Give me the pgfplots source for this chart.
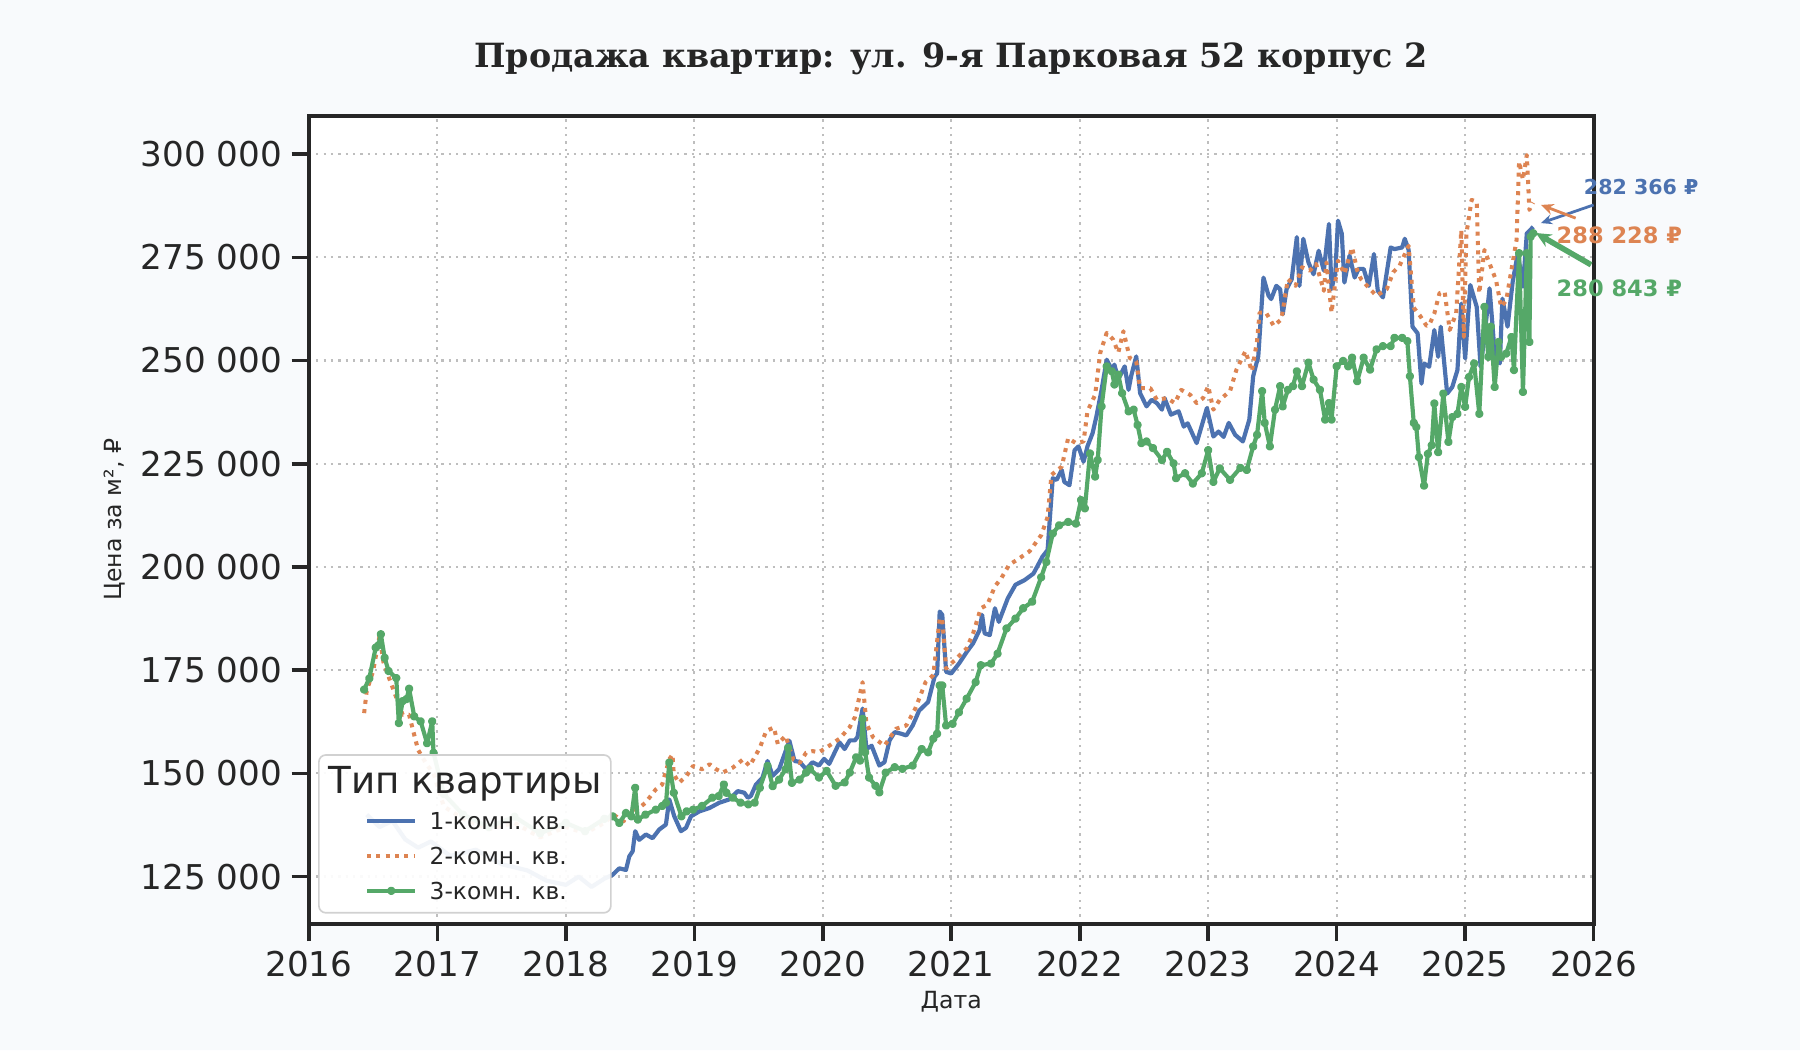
\documentclass[border=0pt]{standalone}
\usepackage{pgfplots}
\usepackage{pgfplotstable}
\pgfplotsset{compat=1.18}
\usetikzlibrary{arrows.meta}
\usepackage{fontspec}
\setmainfont{DejaVu Sans}
\newfontfamily\titlefont{DejaVu Serif}

\definecolor{c1}{HTML}{4C72B0}
\definecolor{c2}{HTML}{DD8452}
\definecolor{c3}{HTML}{55A868}
\definecolor{bg}{HTML}{F8FAFC}
\definecolor{ink}{HTML}{262626}
\definecolor{gridc}{HTML}{BEBEBE}

% 1-комн. кв.
\pgfplotstableread{
x y
2016.45 140000
2016.55 137000
2016.65 138500
2016.75 134000
2016.85 132000
2016.95 133500
2017.10 130000
2017.30 131500
2017.50 128000
2017.70 126500
2017.85 124000
2018.00 123000
2018.10 125000
2018.20 122500
2018.30 124500
2018.363 125400
2018.416 127000
2018.468 126600
2018.494 129900
2018.52 131100
2018.54 136000
2018.571 133900
2018.623 135200
2018.675 134300
2018.727 136400
2018.779 137600
2018.805 143700
2018.844 139600
2018.896 136000
2018.935 136800
2018.974 139600
2019.04 140800
2019.117 141600
2019.195 142900
2019.273 143700
2019.338 145700
2019.39 145300
2019.416 144100
2019.44 144500
2019.48 147300
2019.53 148900
2019.57 153000
2019.61 149400
2019.66 151000
2019.74 157900
2019.78 153000
2019.82 152800
2019.87 151000
2019.92 152700
2019.97 151900
2020.01 153500
2020.05 152300
2020.13 157500
2020.17 155900
2020.21 158000
2020.25 158000
2020.27 158800
2020.31 165700
2020.34 155900
2020.38 156700
2020.44 151900
2020.48 152700
2020.52 158000
2020.56 160000
2020.61 159600
2020.65 159200
2020.70 161600
2020.75 165200
2020.82 167300
2020.87 173400
2020.89 174200
2020.91 189200
2020.93 188400
2020.96 174600
2021.00 174200
2021.06 176600
2021.12 179400
2021.17 181500
2021.22 184700
2021.24 188400
2021.26 183900
2021.30 183500
2021.34 190000
2021.37 186700
2021.44 192400
2021.50 195700
2021.57 196800
2021.64 198400
2021.71 202500
2021.75 204100
2021.79 221500
2021.82 221100
2021.86 223500
2021.88 220600
2021.92 219800
2021.96 228300
2021.99 229200
2022.03 225500
2022.06 229200
2022.10 232400
2022.13 236500
2022.17 242900
2022.21 250200
2022.25 247800
2022.27 249000
2022.30 245400
2022.35 248600
2022.38 242900
2022.40 246200
2022.44 251000
2022.47 242100
2022.52 238900
2022.56 240500
2022.60 239700
2022.64 238100
2022.66 240900
2022.71 236900
2022.77 237700
2022.81 234000
2022.84 234800
2022.91 230000
2022.99 238500
2023.04 231600
2023.08 232800
2023.12 231500
2023.16 234900
2023.21 232000
2023.27 230400
2023.32 235700
2023.35 246200
2023.39 251100
2023.43 270100
2023.47 265700
2023.49 264900
2023.53 268100
2023.56 267300
2023.58 261200
2023.61 267300
2023.65 269700
2023.69 279900
2023.71 268100
2023.74 279500
2023.78 273800
2023.82 270900
2023.86 276600
2023.90 271800
2023.94 283100
2023.96 267300
2023.99 271400
2024.01 283900
2024.04 280700
2024.06 268900
2024.10 275400
2024.14 270100
2024.17 272200
2024.21 272200
2024.25 268100
2024.29 275800
2024.32 266900
2024.36 265300
2024.42 277400
2024.45 277000
2024.51 277400
2024.53 279500
2024.56 276800
2024.59 258200
2024.63 256600
2024.66 244400
2024.68 249300
2024.72 248500
2024.76 257400
2024.79 250900
2024.81 258200
2024.86 242000
2024.90 243600
2024.94 247700
2024.97 263800
2025.00 250500
2025.04 268300
2025.09 263000
2025.12 248500
2025.15 255700
2025.19 267500
2025.23 251700
2025.27 249300
2025.29 265000
2025.33 258200
2025.37 269100
2025.41 276000
2025.45 267900
2025.48 280800
2025.53 282366
}\roomone

% 2-комн. кв.
\pgfplotstableread{
x y
2016.43 164600
2016.45 170000
2016.50 174800
2016.55 183300
2016.58 177000
2016.63 172600
2016.73 164200
2016.78 164200
2016.82 159300
2016.85 155700
2016.92 152000
2016.97 150000
2017.05 142000
2017.20 139000
2017.40 136500
2017.60 138000
2017.80 134500
2018.00 137000
2018.15 135500
2018.30 138000
2018.37 140000
2018.45 138400
2018.49 140800
2018.57 141600
2018.62 142900
2018.70 146100
2018.75 147300
2018.805 153400
2018.83 154600
2018.84 149800
2018.88 147700
2018.94 149400
2018.99 151800
2019.06 151000
2019.12 152200
2019.17 151000
2019.22 150200
2019.30 151400
2019.38 153400
2019.43 151800
2019.46 153400
2019.51 156200
2019.56 160300
2019.62 161100
2019.65 157100
2019.71 159100
2019.77 153400
2019.82 152500
2019.87 155000
2019.92 155400
2019.97 155100
2020.05 156700
2020.13 158400
2020.21 161200
2020.25 163600
2020.31 172100
2020.34 162000
2020.39 158800
2020.48 156700
2020.57 160800
2020.65 161600
2020.72 165700
2020.80 172100
2020.86 173800
2020.91 187500
2020.93 187500
2020.96 175400
2021.04 177800
2021.12 180300
2021.17 183900
2021.23 190000
2021.28 190800
2021.34 195300
2021.39 197300
2021.45 200500
2021.53 202100
2021.61 203800
2021.70 207700
2021.75 212100
2021.78 222300
2021.86 224300
2021.91 231200
2021.97 230000
2022.03 230400
2022.06 237700
2022.12 241700
2022.16 251900
2022.21 256700
2022.26 255100
2022.30 251900
2022.34 257100
2022.39 250600
2022.44 249800
2022.47 243300
2022.55 243300
2022.60 240500
2022.68 240900
2022.74 239700
2022.79 242900
2022.86 241700
2022.91 239700
2022.96 240900
2023.00 243800
2023.04 238100
2023.09 240500
2023.17 242600
2023.22 247800
2023.29 252300
2023.34 247400
2023.38 254700
2023.40 261600
2023.45 261600
2023.51 258400
2023.57 260000
2023.62 269700
2023.68 268100
2023.73 272600
2023.79 271800
2023.84 273400
2023.90 266900
2023.92 273800
2023.96 261600
2024.01 274200
2024.06 271000
2024.12 277400
2024.16 271800
2024.19 269700
2024.26 267300
2024.31 265700
2024.39 267300
2024.44 271400
2024.49 273000
2024.56 277800
2024.60 262800
2024.65 260800
2024.70 258400
2024.72 258600
2024.76 261400
2024.80 266300
2024.84 266700
2024.88 257400
2024.93 261400
2024.97 281600
2024.99 255700
2025.01 280800
2025.05 288900
2025.09 288500
2025.11 266300
2025.15 276800
2025.20 272700
2025.24 269500
2025.28 263000
2025.32 264600
2025.36 271900
2025.40 279200
2025.42 298200
2025.45 293800
2025.48 299800
2025.50 286500
2025.53 288228
}\roomtwo

% 3-комн. кв.
\pgfplotstableread{
x y
2016.43 170300
2016.47 173000
2016.52 180450
2016.54 181000
2016.56 183700
2016.59 178000
2016.62 174800
2016.68 173100
2016.70 162200
2016.73 167500
2016.76 168000
2016.78 170500
2016.82 163800
2016.87 162600
2016.92 157300
2016.96 162600
2016.97 155000
2017.05 145000
2017.20 140000
2017.40 137000
2017.60 139500
2017.80 135500
2018.00 138000
2018.15 136000
2018.30 139000
2018.363 139600
2018.416 138000
2018.468 140400
2018.51 139600
2018.54 146500
2018.56 138800
2018.62 140000
2018.70 141200
2018.75 142100
2018.78 142900
2018.805 152600
2018.84 145300
2018.90 139600
2018.94 140800
2018.99 141200
2019.06 142100
2019.14 144100
2019.19 144500
2019.23 147300
2019.25 145300
2019.30 144100
2019.36 142900
2019.42 142500
2019.47 142900
2019.51 146500
2019.57 151800
2019.61 146900
2019.66 148500
2019.71 151000
2019.73 156200
2019.76 147700
2019.82 148500
2019.87 150200
2019.90 151100
2019.97 149000
2020.03 150600
2020.10 147000
2020.17 147800
2020.21 150200
2020.26 153900
2020.29 153100
2020.31 163200
2020.33 155100
2020.36 149000
2020.41 147000
2020.44 145400
2020.49 150200
2020.56 151500
2020.62 151100
2020.70 151900
2020.77 155900
2020.82 155100
2020.86 158400
2020.89 159600
2020.91 171300
2020.93 171300
2020.96 161600
2021.01 162000
2021.06 164800
2021.12 168100
2021.19 172100
2021.23 176200
2021.31 176600
2021.36 179000
2021.43 185100
2021.50 187500
2021.56 190000
2021.63 191600
2021.70 197500
2021.74 201200
2021.79 208100
2021.84 210100
2021.91 210900
2021.97 210500
2022.01 216200
2022.04 214200
2022.08 227500
2022.12 221900
2022.14 225900
2022.17 238900
2022.21 248600
2022.25 247400
2022.27 244200
2022.30 246600
2022.33 242100
2022.38 237700
2022.42 238100
2022.45 234400
2022.48 230000
2022.52 230400
2022.57 228800
2022.64 225900
2022.68 227900
2022.73 225100
2022.75 221500
2022.82 222700
2022.88 220200
2022.95 222700
2023.00 228300
2023.04 220600
2023.09 223900
2023.17 221100
2023.25 224000
2023.30 223500
2023.35 229200
2023.38 232000
2023.42 242600
2023.44 234900
2023.48 229200
2023.52 238100
2023.56 243800
2023.58 238900
2023.62 242900
2023.66 243800
2023.69 247400
2023.73 243800
2023.78 249500
2023.82 245400
2023.87 242900
2023.91 235700
2023.94 239700
2023.96 235700
2024.00 248600
2024.05 249900
2024.09 248600
2024.12 250700
2024.16 245000
2024.21 250700
2024.26 247800
2024.31 252700
2024.36 253500
2024.42 253500
2024.45 255500
2024.51 255500
2024.55 254700
2024.57 246200
2024.60 234900
2024.62 233900
2024.64 226600
2024.68 219700
2024.71 227400
2024.74 229500
2024.76 239600
2024.79 227800
2024.83 242000
2024.87 230300
2024.90 236300
2024.94 237100
2024.97 243600
2025.00 238800
2025.03 246000
2025.07 249300
2025.11 237100
2025.15 263000
2025.18 250900
2025.20 258200
2025.23 243600
2025.26 254500
2025.28 250900
2025.32 251700
2025.36 255700
2025.38 247700
2025.42 276000
2025.45 242400
2025.48 276000
2025.50 254500
2025.51 280000
2025.53 280843
}\roomthree

\begin{document}
\begin{tikzpicture}
\node[font=\titlefont\bfseries\fontsize{12}{14}\selectfont, text=ink, anchor=base]
  at (342.4pt,353.6pt) {Продажа квартир: ул. 9-я Парковая 52 корпус 2};
\begin{axis}[
  set layers,
  at={(111.2pt,45.4pt)}, anchor=south west,
  scale only axis, width=462.5pt, height=290.9pt,
  clip=false,
  axis background/.style={fill=white},
  xmin=2016, xmax=2026,
  ymin=113540, ymax=309280,
  xtick={2016,2017,2018,2019,2020,2021,2022,2023,2024,2025,2026},
  xticklabels={2016,2017,2018,2019,2020,2021,2022,2023,2024,2025,2026},
  ytick={125000,150000,175000,200000,225000,250000,275000,300000},
  yticklabels={125 000,150 000,175 000,200 000,225 000,250 000,275 000,300 000},
  scaled y ticks=false,
  tick align=outside, xtick pos=left, ytick pos=left,
  major tick length=6.2pt,
  every tick/.style={ink, line width=1.3pt},
  axis line style={ink, line width=1.4pt},
  ticklabel style={font=\fontsize{12.3}{14}\selectfont, text=ink},
  grid=major,
  major grid style={gridc, line width=0.8pt, dash pattern=on 0.8pt off 1.85pt},
  every axis y label/.style={at={(axis description cs:-0.1509,0.5)}, rotate=90, anchor=center},
  every axis x label/.style={at={(axis description cs:0.5,-0.0963)}, anchor=center},
  label style={font=\fontsize{8.5}{10}\selectfont, text=ink},
  xlabel={Дата},
  ylabel={Цена за м², ₽},
  legend cell align=left,
  legend image code/.code={\draw[mark repeat=2,mark phase=2,#1] plot coordinates {(0pt,0pt) (8.7pt,0pt) (17.4pt,0pt)};},
  legend style={draw=none, fill=none, inner sep=0pt, outer sep=0pt,
    at={(0,0)}, anchor=south west, xshift=20.2pt, yshift=7.9pt,
    row sep=4.5pt, column sep=4.4pt,
    nodes={inner sep=0pt, text height=7pt, text depth=1pt, text=ink,
      font=\fontsize{8.4}{10}\selectfont}},
]
% page colour around the white axis area
\begin{pgfonlayer}{axis background}
\fill[bg, even odd rule]
  ([shift={(-111.2pt,-45.4pt)}]rel axis cs:0,0) rectangle ([shift={(74.3pt,41.7pt)}]rel axis cs:1,1)
  (rel axis cs:0,0) rectangle (rel axis cs:1,1);
\end{pgfonlayer}

\addplot[c1, line width=1.5pt, line join=round] table[x=x, y=y] {\roomone};
\addlegendentry{1-комн. кв.}
\addplot[c2, line width=1.45pt, line join=round, dash pattern=on 1.45pt off 1.9pt] table[x=x, y=y] {\roomtwo};
\addlegendentry{2-комн. кв.}
\addplot[c3, line width=1.5pt, line join=round, mark=*, mark size=0.75pt, mark options={solid, draw=none, fill=c3}] table[x=x, y=y] {\roomthree};
\addlegendentry{3-комн. кв.}

% legend frame and title: above the curves, below the legend entries
\begin{pgfonlayer}{axis descriptions}
\draw[draw=black!18, fill=white, fill opacity=0.93, line width=0.6pt, rounded corners=2.5pt]
  ([shift={(3.6pt,4pt)}]rel axis cs:0,0) rectangle ([shift={(108.7pt,60.8pt)}]rel axis cs:0,0);
\node[anchor=base west, inner sep=0pt, text=ink, font=\fontsize{13.4}{16}\selectfont]
  at ([shift={(7pt,47pt)}]rel axis cs:0,0) {Тип квартиры};
\end{pgfonlayer}

% labels of the last values
\draw[c1, line width=1pt, -{Stealth[length=4pt, width=3.5pt]}] (axis cs:2026.00,287700) -- (axis cs:2025.59,283300);
\draw[c2, line width=1pt, -{Stealth[length=4.5pt, width=4pt]}] (axis cs:2025.86,284500) -- (axis cs:2025.59,287700);
\draw[c3, line width=2pt, -{Stealth[length=5.5pt, width=5pt]}] (axis cs:2025.98,273200) -- (axis cs:2025.55,280900);
\node[c1, font=\bfseries\fontsize{7.4}{9}\selectfont] at (axis cs:2026.37,292150) {282 366 ₽};
\node[c2, font=\bfseries\fontsize{8.1}{10}\selectfont] at (axis cs:2026.20,280450) {288 228 ₽};
\node[c3, font=\bfseries\fontsize{8.1}{10}\selectfont] at (axis cs:2026.20,267600) {280 843 ₽};
\end{axis}
\end{tikzpicture}
\end{document}
